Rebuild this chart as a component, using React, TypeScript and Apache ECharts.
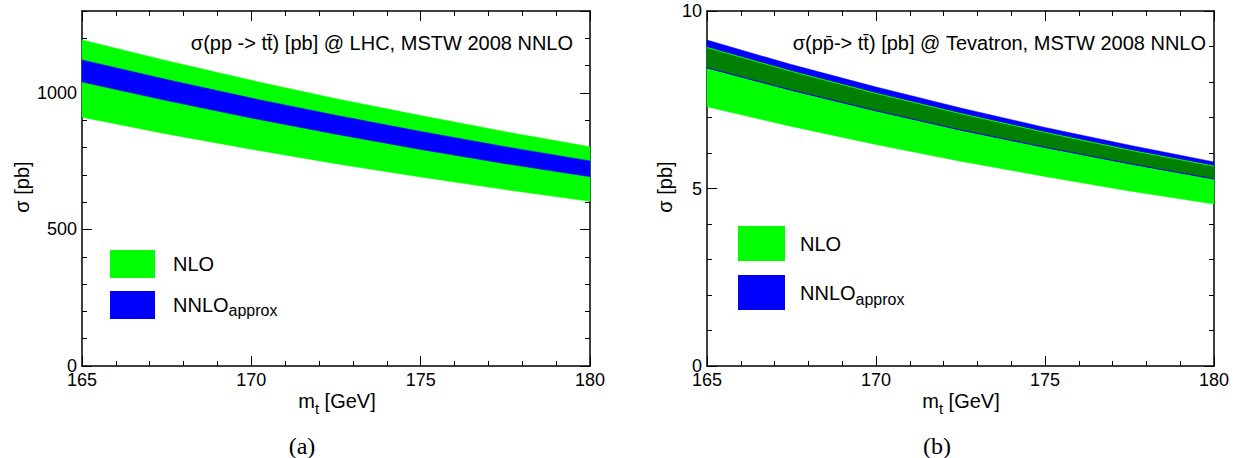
import React, { useEffect, useRef } from "react";
import * as echarts from "echarts";

// top-quark mass grid [GeV]
const mt = [165, 167.5, 170, 172.5, 175, 177.5, 180];
// (a) LHC cross sections [pb]
const lhcNloLow = [911, 850, 794, 741, 692, 646, 603];
const lhcNloHigh = [1194, 1118, 1046, 979, 917, 858, 803];
const lhcNnloLow = [1040, 972, 908, 849, 793, 741, 693];
const lhcNnloHigh = [1121, 1049, 981, 918, 859, 803, 751];
// (b) Tevatron cross sections [pb]
const tevNloLow = [7.3, 6.75, 6.24, 5.77, 5.34, 4.93, 4.56];
const tevNloHigh = [8.97, 8.3, 7.68, 7.11, 6.58, 6.08, 5.63];
const tevNnloLow = [8.4, 7.77, 7.19, 6.65, 6.16, 5.7, 5.27];
const tevNnloHigh = [9.18, 8.49, 7.86, 7.27, 6.72, 6.22, 5.75];

const titleA = "σ(pp -> t\u0074\u0304) [pb] @ LHC, MSTW 2008 NNLO";
const titleB = "σ(pp\u0304-> t\u0074\u0304) [pb] @ Tevatron, MSTW 2008 NNLO";
const yTitle = "σ [pb]";
const xTitle = "{a|m}{s|t}{a| [GeV]}";

const FONT = '"Liberation Sans", Arial, sans-serif';
const GREEN = "#00ff00";
const BLUE = "#0000ff";
const DARK = "#008000";

function bandSeries(
  name: string,
  xi: number,
  yi: number,
  lo: number[],
  hi: number[],
  fill: string,
  edges?: { lo: string; hi: string }
) {
  return {
    type: "custom",
    name,
    xAxisIndex: xi,
    yAxisIndex: yi,
    silent: true,
    itemStyle: { color: fill },
    dimensions: ["x", "lo", "hi"],
    encode: { x: 0, y: [1, 2] },
    data: mt.map((x, i) => [x, lo[i], hi[i]]),
    renderItem: (params: any, api: any) => {
      if (params.dataIndexInside !== 0) return { type: "group", children: [] };
      const n = params.dataInsideLength;
      const up: number[][] = [];
      const dn: number[][] = [];
      for (let i = 0; i < n; i++) {
        const x = api.value(0, i);
        up.push(api.coord([x, api.value(2, i)]));
        dn.push(api.coord([x, api.value(1, i)]));
      }
      const children: any[] = [
        {
          type: "polygon",
          shape: { points: up.concat(dn.slice().reverse()) },
          style: { fill, stroke: fill, lineWidth: 0.5 },
        },
      ];
      if (edges) {
        children.push({
          type: "polyline",
          shape: { points: dn },
          style: { fill: "none", stroke: edges.lo, lineWidth: 1 },
        });
        children.push({
          type: "polyline",
          shape: { points: up },
          style: { fill: "none", stroke: edges.hi, lineWidth: 1 },
        });
      }
      return { type: "group", children };
    },
  };
}

const tickStyle = { color: "#000", width: 1 };
const labelStyle = {
  fontSize: 18,
  color: "#000",
  fontFamily: FONT,
  margin: 5,
  formatter: (v: number) => String(v),
};

function xAxisDef(grid: number, pos: string, labels: boolean) {
  return {
    type: "value",
    gridIndex: grid,
    position: pos,
    min: 165,
    max: 180,
    interval: 5,
    axisLine: { show: true, onZero: false, lineStyle: { color: "#000", width: 1.5 } },
    axisTick: { show: true, inside: true, length: 10, lineStyle: tickStyle },
    minorTick: { show: true, splitNumber: 5, length: 5, lineStyle: tickStyle },
    splitLine: { show: false },
    minorSplitLine: { show: false },
    axisLabel: { show: labels, ...labelStyle },
  };
}

function yAxisDef(
  grid: number,
  pos: string,
  max: number,
  interval: number,
  opts: { labels: boolean; line: boolean; tickLen: number; minor: boolean }
) {
  return {
    type: "value",
    gridIndex: grid,
    position: pos,
    min: 0,
    max,
    interval,
    axisLine: { show: opts.line, onZero: false, lineStyle: { color: "#000", width: 1.5 } },
    axisTick: { show: true, inside: true, length: opts.tickLen, lineStyle: tickStyle },
    minorTick: { show: opts.minor, splitNumber: 5, length: 5, lineStyle: tickStyle },
    splitLine: { show: false },
    minorSplitLine: { show: false },
    axisLabel: { show: opts.labels, showMaxLabel: max % interval === 0, ...labelStyle },
  };
}

function legendDef(left: number, top: number, w: number, h: number, gap: number, sp: number, subPad: number) {
  return {
    orient: "vertical",
    left,
    top,
    itemWidth: w,
    itemHeight: h,
    itemGap: gap,
    padding: 0,
    selectedMode: false,
    data: [
      { name: "NLO", icon: "rect" },
      { name: "NNLO", icon: "rect" },
    ],
    itemStyle: { borderWidth: 0 },
    formatter: (n: string) => (n === "NNLO" ? "{sp|}{a|NNLO}{s|approx}" : "{sp|}{a|NLO}"),
    textStyle: {
      rich: {
        sp: { width: sp },
        a: { fontSize: 20, lineHeight: 24, fontFamily: FONT, color: "#000" },
        s: { fontSize: 16, lineHeight: 16, fontFamily: FONT, color: "#000", padding: [subPad, 0, 0, 0] },
      },
    },
  };
}

const xTitleRich = {
  a: { fontSize: 20, lineHeight: 24, fontFamily: FONT, fill: "#000", color: "#000" },
  s: { fontSize: 15, lineHeight: 15, fontFamily: FONT, fill: "#000", color: "#000", padding: [14, 0, 0, 0] },
};

function yTitleText(x: number) {
  return {
    type: "text",
    x,
    y: 187,
    rotation: Math.PI / 2,
    style: { text: yTitle, font: `20px ${FONT}`, fill: "#000", align: "center", verticalAlign: "middle" },
  };
}

function xTitleText(x: number) {
  return {
    type: "text",
    x,
    y: 401,
    style: { text: xTitle, rich: xTitleRich, fill: "#000", align: "center", verticalAlign: "middle" },
  };
}

export default function App() {
  const ref = useRef<HTMLDivElement>(null);
  useEffect(() => {
    if (!ref.current) return;
    const chart = echarts.init(ref.current, null, { renderer: "svg" });
    chart.setOption({
      animation: false,
      backgroundColor: "#fff",
      textStyle: { fontFamily: FONT },
      grid: [
        { left: 82, top: 11, width: 508, height: 355 },
        { left: 707, top: 11, width: 507, height: 355 },
      ],
      title: [
        {
          text: titleA,
          right: 663,
          top: 31,
          padding: 0,
          textStyle: { fontSize: 20, lineHeight: 24, fontWeight: "normal", fontFamily: FONT, color: "#000" },
        },
        {
          text: titleB,
          right: 30,
          top: 31,
          padding: 0,
          textStyle: { fontSize: 20, lineHeight: 24, fontWeight: "normal", fontFamily: FONT, color: "#000" },
        },
      ],
      legend: [legendDef(110, 250, 45, 28, 13, 13, 10), legendDef(738, 226, 47, 35, 14, 10, 14)],
      xAxis: [
        xAxisDef(0, "bottom", true),
        xAxisDef(0, "top", false),
        xAxisDef(1, "bottom", true),
        xAxisDef(1, "top", false),
      ],
      yAxis: [
        yAxisDef(0, "left", 1300, 500, { labels: true, line: true, tickLen: 10, minor: false }),
        yAxisDef(0, "left", 1300, 100, { labels: false, line: false, tickLen: 5, minor: false }),
        yAxisDef(0, "right", 1300, 500, { labels: false, line: true, tickLen: 10, minor: false }),
        yAxisDef(0, "right", 1300, 100, { labels: false, line: false, tickLen: 5, minor: false }),
        yAxisDef(1, "left", 10, 5, { labels: true, line: true, tickLen: 10, minor: true }),
        yAxisDef(1, "right", 10, 5, { labels: false, line: true, tickLen: 10, minor: true }),
      ],
      graphic: [
        yTitleText(22),
        yTitleText(665),
        xTitleText(337),
        xTitleText(961),
        { type: "text", x: 302, y: 446, style: { text: "(a)", font: '24px "Liberation Serif", serif', fill: "#000", align: "center", verticalAlign: "middle" } },
        { type: "text", x: 937, y: 446, style: { text: "(b)", font: '24px "Liberation Serif", serif', fill: "#000", align: "center", verticalAlign: "middle" } },
      ],
      series: [
        bandSeries("NLO", 0, 0, lhcNloLow, lhcNloHigh, GREEN),
        bandSeries("NNLO", 0, 0, lhcNnloLow, lhcNnloHigh, BLUE),
        bandSeries("NLO", 2, 4, tevNloLow, tevNloHigh, GREEN),
        bandSeries("NNLO", 2, 4, tevNnloLow, tevNnloHigh, BLUE),
        bandSeries("overlap", 2, 4, tevNnloLow, tevNloHigh, DARK, { lo: BLUE, hi: GREEN }),
      ],
    });
    return () => chart.dispose();
  }, []);
  return (
    <div
      ref={ref}
      style={{ position: "absolute", left: 0, top: 0, width: 1236, height: 458, background: "#fff" }}
    />
  );
}
